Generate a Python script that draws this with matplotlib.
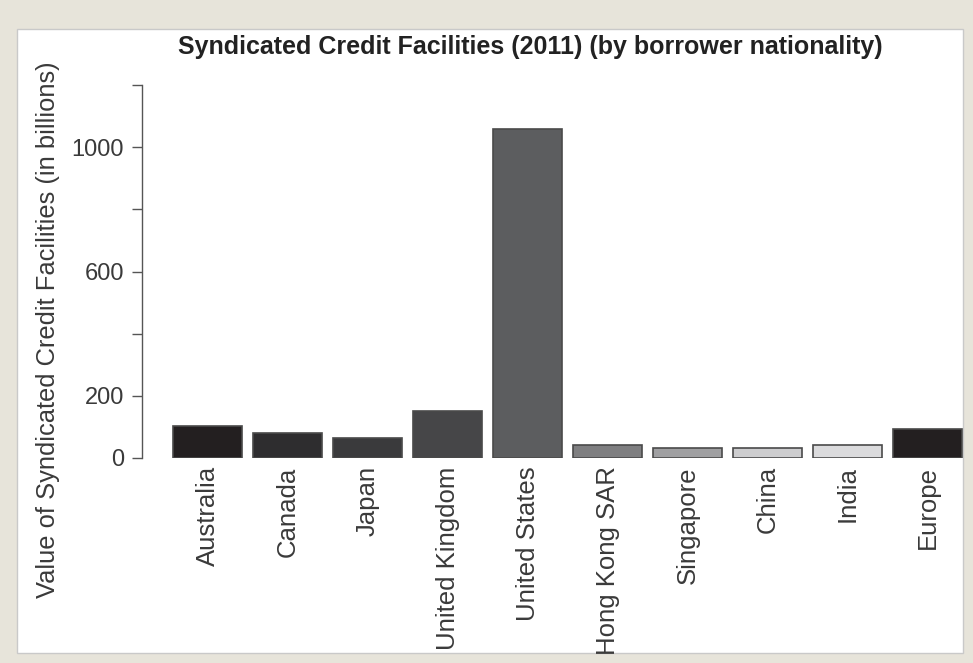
import matplotlib
matplotlib.use("Agg")
import matplotlib.pyplot as plt
from matplotlib.patches import Rectangle

categories = ["Australia", "Canada", "Japan", "United Kingdom", "United States",
              "Hong Kong SAR", "Singapore", "China", "India", "Europe"]
values = [103, 80, 65, 151, 1060, 42, 32, 31, 42, 93]
bar_colors = ["#231f20", "#2e2d2f", "#3a3a3c", "#464648", "#5c5d5f",
              "#7f7f81", "#a0a0a2", "#cdcdcf", "#dbdbdd", "#231f20"]
yticks = [0, 200, 400, 600, 800, 1000, 1200]
ytick_labels = ["0", "200", "", "600", "", "1000", ""]

plt.rcParams['font.family'] = ['Liberation Sans', 'DejaVu Sans']

W, H = 973, 663
fig = plt.figure(figsize=(W / 100, H / 100), dpi=100)
fig.patch.set_facecolor("#e7e4da")

# white inner panel
panel = Rectangle((17 / W, 10 / H), (963 - 17) / W, (653 - 29) / H,
                  transform=fig.transFigure, facecolor="white",
                  edgecolor="#c9c9c9", linewidth=1.0, zorder=-5)
fig.patches.append(panel)

ax = fig.add_axes([142 / W, (H - 458) / H, (963 - 142) / W, (458 - 85) / H])
ax.set_facecolor("none")
ax.set_zorder(2)

x = list(range(len(categories)))
ax.bar(x, values, width=0.86, color=bar_colors, edgecolor="#4a4a4a",
       linewidth=1.2, zorder=2)

ax.set_xlim(-0.82, 9.44)
ax.set_ylim(0, 1200)

for s in ["top", "right", "bottom"]:
    ax.spines[s].set_visible(False)
ax.spines["left"].set_color("#555555")
ax.spines["left"].set_linewidth(1.0)

ax.set_yticks(yticks)
ax.set_yticklabels(ytick_labels)
ax.tick_params(axis="y", direction="out", length=7, width=1.0, color="#555555",
               labelsize=17, labelcolor="#3a3a3a", pad=6)

ax.set_xticks(x)
ax.set_xticklabels(categories, rotation=90, va="top", ha="center")
ax.tick_params(axis="x", length=0, labelsize=18.5, labelcolor="#3a3a3a", pad=6)

fig.text(530 / W, (H - 47) / H,
         "Syndicated Credit Facilities (2011) (by borrower nationality)",
         ha="center", va="center", fontsize=18, fontweight="bold", color="#222222",
         zorder=3)

fig.text(48 / W, (H - 330) / H,
         "Value of Syndicated Credit Facilities (in billions)",
         rotation=90, ha="center", va="center", fontsize=18.4, color="#3a3a3a",
         zorder=3)

fig.savefig("out.png", dpi=100, facecolor=fig.get_facecolor())
